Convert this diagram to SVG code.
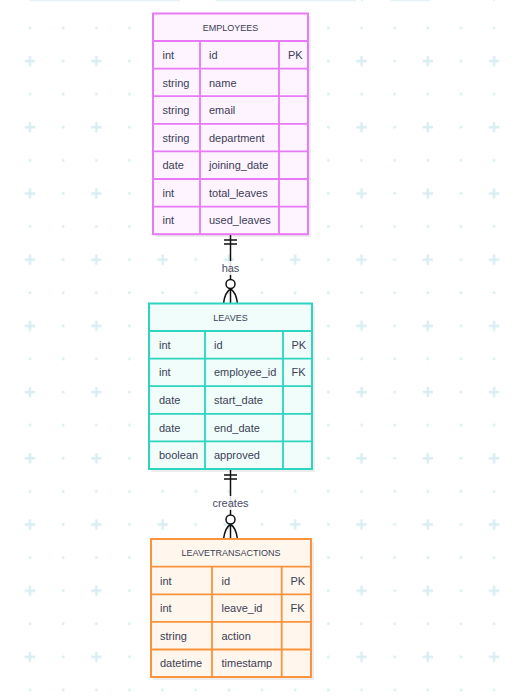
<svg xmlns="http://www.w3.org/2000/svg" width="519" height="697" viewBox="0 0 519 697">
<defs>
<pattern id="grid" patternUnits="userSpaceOnUse" x="13.425" y="11.45" width="66.3" height="66.2">
<circle cx="16.575" cy="16.55" r="1.4" fill="#d9eef2"/>
<circle cx="49.725" cy="16.55" r="1.4" fill="#d9eef2"/>
<circle cx="49.725" cy="49.65" r="1.4" fill="#d9eef2"/>
<path d="M11.4,49.65 H21.75 M16.575,44.5 V54.8" stroke="#d9eef2" stroke-width="2.4"/>
</pattern>
<style>
.t{font-family:"Liberation Sans",Arial,sans-serif;fill:#3b3d55}
.h{font-size:9px;text-anchor:middle}
.c{font-size:11px}
.lbl{font-family:"Liberation Sans",Arial,sans-serif;font-size:11px;fill:#4a4c66;text-anchor:middle}
.sh{fill:#000;opacity:0.07}
.emp .b{fill:#fdf4ff;stroke:#e879f9;stroke-width:2}
.emp .l{stroke:#e879f9;stroke-width:1.8;fill:none}
.lv .b{fill:#f0fdfa;stroke:#2dd4bf;stroke-width:2}
.lv .l{stroke:#2dd4bf;stroke-width:1.8;fill:none}
.lt .b{fill:#fff7ed;stroke:#fb923c;stroke-width:2}
.lt .l{stroke:#fb923c;stroke-width:1.8;fill:none}
.cn{stroke:#111;stroke-width:1.5;fill:none}
</style>
</defs>
<rect width="519" height="697" fill="#ffffff"/>
<rect width="519" height="697" fill="url(#grid)"/>
<path d="M30,0.5 H180 M216,0.5 H356 M361,0.5 H363 M390,0.5 H430 M493,0.5 H495" stroke="#e6f3f6" stroke-width="1.5"/>

<g id="connectors">
<g id="emp-leaves">
<path class="cn" d="M230.5,234 V303.5"/>
<path class="cn" d="M224,240 H237 M224,244 H237"/>
<rect x="220" y="261" width="21" height="14" fill="#ffffff" opacity="0.85"/>
<text class="lbl" x="230.5" y="268" dominant-baseline="central">has</text>
<path class="cn" d="M223.5,303.5 Q225,292 230.5,289 Q236,292 237.5,303.5"/>
<circle cx="230.5" cy="284" r="4.5" fill="#ffffff" stroke="#111" stroke-width="1.5"/>
</g>
<g id="leaves-lt">
<path class="cn" d="M230.5,469 V539"/>
<path class="cn" d="M224,475 H237 M224,479 H237"/>
<rect x="210" y="496" width="41" height="14" fill="#ffffff" opacity="0.85"/>
<text class="lbl" x="230.5" y="503" dominant-baseline="central">creates</text>
<path class="cn" d="M223.5,539 Q225,527.5 230.5,524.5 Q236,527.5 237.5,539"/>
<circle cx="230.5" cy="519.5" r="4.5" fill="#ffffff" stroke="#111" stroke-width="1.5"/>
</g>
</g>

<g id="employees" class="emp">
<rect class="sh" x="155" y="16" width="156" height="221"/>
<rect class="b" x="153" y="13.5" width="155" height="220.7"/>
<path class="l" d="M153,41 H308 M153,68.6 H308 M153,96.2 H308 M153,123.8 H308 M153,151.4 H308 M153,179 H308 M153,206.6 H308 M200,41 V234.2 M279,41 V234.2"/>
<text class="t h" x="230.5" y="27.5" dominant-baseline="central">EMPLOYEES</text>
<g class="t c" dominant-baseline="central">
<text x="162.5" y="55">int</text><text x="209" y="55">id</text><text x="288" y="55">PK</text>
<text x="162.5" y="82.5">string</text><text x="209" y="82.5">name</text>
<text x="162.5" y="110">string</text><text x="209" y="110">email</text>
<text x="162.5" y="137.6">string</text><text x="209" y="137.6">department</text>
<text x="162.5" y="165.2">date</text><text x="209" y="165.2">joining_date</text>
<text x="162.5" y="192.8">int</text><text x="209" y="192.8">total_leaves</text>
<text x="162.5" y="220.4">int</text><text x="209" y="220.4">used_leaves</text>
</g>
</g>

<g id="leaves" class="lv">
<rect class="sh" x="151" y="306" width="164" height="166"/>
<rect class="b" x="149" y="303.5" width="163" height="165.5"/>
<path class="l" d="M149,331 H312 M149,358.6 H312 M149,386.2 H312 M149,413.8 H312 M149,441.4 H312 M205,331 V469 M283,331 V469"/>
<text class="t h" x="230.5" y="317.5" dominant-baseline="central">LEAVES</text>
<g class="t c" dominant-baseline="central">
<text x="159" y="345">int</text><text x="214" y="345">id</text><text x="291.5" y="345">PK</text>
<text x="159" y="372.4">int</text><text x="214" y="372.4">employee_id</text><text x="291.5" y="372.4">FK</text>
<text x="159" y="400">date</text><text x="214" y="400">start_date</text>
<text x="159" y="427.6">date</text><text x="214" y="427.6">end_date</text>
<text x="159" y="455.2">boolean</text><text x="214" y="455.2">approved</text>
</g>
</g>

<g id="leavetransactions" class="lt">
<rect class="sh" x="153" y="541.5" width="161" height="138.5"/>
<rect class="b" x="151" y="539" width="160" height="138"/>
<path class="l" d="M151,566.7 H311 M151,594.3 H311 M151,621.9 H311 M151,649.5 H311 M212,566.7 V677 M281.7,566.7 V677"/>
<text class="t h" x="231" y="552.5" dominant-baseline="central">LEAVETRANSACTIONS</text>
<g class="t c" dominant-baseline="central">
<text x="160" y="580.5">int</text><text x="221.5" y="580.5">id</text><text x="290.5" y="580.5">PK</text>
<text x="160" y="608">int</text><text x="221.5" y="608">leave_id</text><text x="290.5" y="608">FK</text>
<text x="160" y="635.6">string</text><text x="221.5" y="635.6">action</text>
<text x="160" y="663.2">datetime</text><text x="221.5" y="663.2">timestamp</text>
</g>
</g>
</svg>
